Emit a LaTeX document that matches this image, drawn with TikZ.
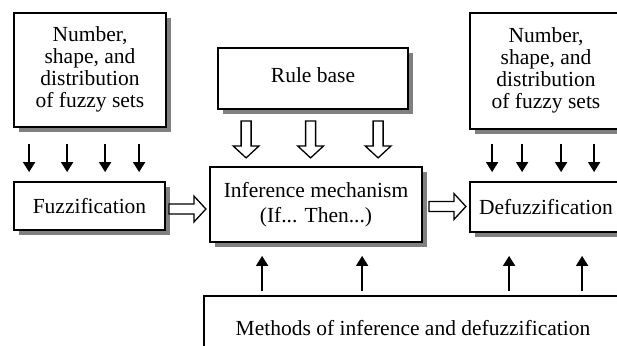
\documentclass[tikz,border=0pt]{standalone}
\usepackage{fontspec}
\setmainfont{Liberation Serif}
\usetikzlibrary{arrows.meta,shadows,calc}
\newcommand{\lowered}[2]{\raisebox{-#1}{\begin{tabular}{@{}c@{}}#2\end{tabular}}}
\tikzset{
  sbox/.style={draw, line width=1.8pt, fill=white, inner sep=0pt, align=center,
    font=\fontsize{21.5}{22}\selectfont,
    drop shadow={shadow xshift=5pt, shadow yshift=-5pt, fill=black!50, opacity=1}},
  darr/.style={line width=1.7pt, -{Triangle[length=10pt,width=12pt]}},
  harrow/.pic={\draw[line width=1.3pt, fill=white, line join=miter]
    (0,-5) -- (25,-5) -- (25,-13) -- (37,0) -- (25,13) -- (25,5) -- (0,5) -- cycle;}
}
\begin{document}
\begin{tikzpicture}[x=1pt,y=-1pt]
\useasboundingbox (0,0) rectangle (617,345);
\clip (0,0) rectangle (617,345);
% boxes
\node[sbox, minimum width=152pt, minimum height=114pt] (numL) at (90,70)
  {\lowered{6pt}{Number,\\shape, and\\distribution\\of fuzzy sets}};
\node[sbox, minimum width=151pt, minimum height=48pt] (fuzz) at (89.5,206) {Fuzzification};
\node[sbox, minimum width=190pt, minimum height=61pt] (rule) at (313,78.5) {\lowered{3pt}{Rule base}};
\node[sbox, minimum width=212pt, minimum height=75pt] (inf) at (316,204.5)
  {Inference mechanism\\[3pt](If... Then...)};
\node[sbox, minimum width=152pt, minimum height=116pt] (numR) at (546,71)
  {\lowered{6pt}{Number,\\shape, and\\distribution\\of fuzzy sets}};
\node[sbox, minimum width=152pt, minimum height=50pt] (defuzz) at (546,207) {Defuzzification};
\node[sbox, minimum width=418pt, minimum height=64pt] (meth) at (413,328)
  {Methods of inference and defuzzification};
% thin down arrows, left
\foreach \dx in {16,54,92,126}
  \draw[darr, shorten <=16pt, shorten >=9pt] ($(numL.south west)+(\dx,0)$) -- ($(fuzz.north west)+(\dx,0)$);
% thin down arrows, right
\foreach \dx in {23,53,92,125}
  \draw[darr, shorten <=14pt, shorten >=9pt] ($(numR.south west)+(\dx,0)$) -- ($(defuzz.north west)+(\dx,0)$);
% up arrows to inference
\draw[darr, shorten <=4pt, shorten >=13pt] ($(meth.north west)+(59,0)$) -- ($(inf.south west)+(53,0)$);
\draw[darr, shorten <=4pt, shorten >=13pt] ($(meth.north west)+(159,0)$) -- ($(inf.south west)+(153,0)$);
% up arrows to defuzzification
\draw[darr, shorten <=4pt, shorten >=23pt] ($(meth.north west)+(306,0)$) -- ($(defuzz.south west)+(40,0)$);
\draw[darr, shorten <=4pt, shorten >=23pt] ($(meth.north west)+(379,0)$) -- ($(defuzz.south west)+(113,0)$);
% hollow arrows
\pic[rotate=-90] at ($(rule.south west)+(29,11)$) {harrow};
\pic[rotate=-90] at ($(rule.south west)+(93.5,11)$) {harrow};
\pic[rotate=-90] at ($(rule.south west)+(161,11)$) {harrow};
\pic at ($(fuzz.east)+(3,3)$) {harrow};
\pic at ($(inf.east)+(6,2)$) {harrow};
\end{tikzpicture}
\end{document}
